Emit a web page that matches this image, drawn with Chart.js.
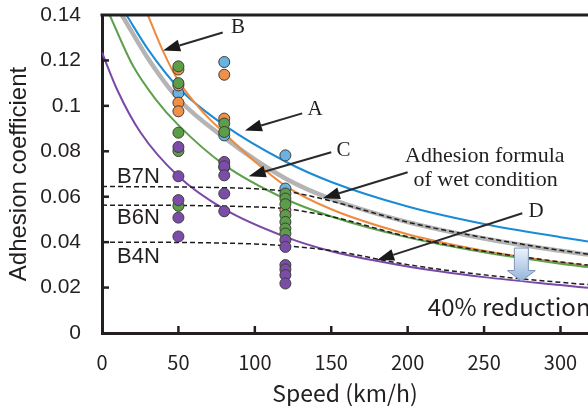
<!DOCTYPE html>
<html lang="en">
<head>
<meta charset="UTF-8">
<title>Adhesion coefficient vs speed</title>
<script src="https://cdn.jsdelivr.net/npm/chart.js"></script>
<style>
    body { margin: 0; background: #fff; }
    .wrap { width: 588px; height: 406px; position: relative; }
</style>
</head>
<body>
<div class="wrap"><canvas id="adhesionChart"></canvas></div>
<script>
// axes
const speedTicks = [0, 50, 100, 150, 200, 250, 300];
const muTicks = [0, 0.02, 0.04, 0.06, 0.08, 0.1, 0.12, 0.14];
const muTickLabels = ['0', '0.02', '0.04', '0.06', '0.08', '0.1', '0.12', '0.14'];

// fitted curves (speed km/h -> adhesion coefficient)
const curveASpeed = [16, 30, 50, 80, 120, 150, 200, 250, 300, 318];
const curveAMu = [0.140, 0.125, 0.108, 0.0915, 0.0755, 0.0665, 0.0557, 0.048, 0.0422, 0.0403];
const curveBSpeed = [30, 40, 50, 65, 80, 100, 120, 150, 200, 250, 300, 318];
const curveBMu = [0.140, 0.124, 0.111, 0.098, 0.088, 0.0755, 0.0648, 0.0545, 0.0435, 0.0362, 0.031, 0.0295];
const curveGraySpeed = [13, 30, 50, 80, 120, 150, 200, 250, 300, 318];
const curveGrayMu = [0.140, 0.121, 0.103, 0.086, 0.068, 0.059, 0.0488, 0.0416, 0.0362, 0.0345];
const curveCSpeed = [5, 20, 35, 50, 80, 120, 150, 200, 250, 300, 318];
const curveCMu = [0.140, 0.118, 0.103, 0.0915, 0.074, 0.059, 0.0513, 0.0421, 0.0355, 0.0305, 0.029];
const curveDSpeed = [0, 10, 25, 50, 80, 120, 150, 200, 250, 300, 318];
const curveDMu = [0.1235, 0.107, 0.0885, 0.069, 0.0545, 0.0423, 0.036, 0.0293, 0.0246, 0.0211, 0.0199];

// wet-condition adhesion formula (dashed)
const wetB7Speed = [0, 60, 100, 120, 135, 155, 200, 250, 300, 318];
const wetB7Mu = [0.0645, 0.0642, 0.0635, 0.0624, 0.0605, 0.0572, 0.0488, 0.042, 0.0364, 0.0347];
const wetB6Speed = [0, 60, 100, 120, 135, 155, 200, 250, 300, 318];
const wetB6Mu = [0.0563, 0.0561, 0.0555, 0.0548, 0.0532, 0.0505, 0.0424, 0.036, 0.0313, 0.0299];
const wetB4Speed = [0, 60, 100, 120, 150, 200, 250, 300, 318];
const wetB4Mu = [0.04, 0.0398, 0.0392, 0.0384, 0.0363, 0.0301, 0.0256, 0.0223, 0.0213];

// measured points
const bluePtSpeed = [50, 80, 80, 120, 120];
const bluePtMu = [0.1056, 0.1193, 0.087, 0.0782, 0.0636];
const orangePtSpeed = [50, 50, 50, 50, 80, 80, 120];
const orangePtMu = [0.116, 0.109, 0.1014, 0.0976, 0.1137, 0.0944, 0.0541];
const greenPtSpeed = [50, 50, 50, 50, 50, 80, 80, 80, 120, 120, 120, 120, 120, 120, 120];
const greenPtMu = [0.1174, 0.110, 0.0882, 0.0801, 0.056, 0.0922, 0.0885, 0.073,
    0.0614, 0.0592, 0.0567, 0.0519, 0.0489, 0.046, 0.0438];
const purplePtSpeed = [50, 50, 50, 50, 50, 80, 80, 80, 80, 80, 120, 120, 120, 120, 120, 120];
const purplePtMu = [0.0819, 0.069, 0.0585, 0.0508, 0.0425, 0.0753, 0.0734, 0.0694, 0.0614, 0.0536,
    0.0409, 0.0379, 0.0299, 0.028, 0.0255, 0.0218];

const pairs = (xs, ys) => xs.map((v, i) => ({ x: v, y: ys[i] }));

const INK = '#231f20';
const SANS = "'Liberation Sans', Arial, sans-serif";
const JP = "'Noto Sans CJK JP', 'Liberation Sans', sans-serif";
const SERIF = "'Liberation Serif', 'Times New Roman', serif";

function curve(xs, ys, color, width, order, dash) {
    return {
        type: 'line', data: pairs(xs, ys), borderColor: color, borderWidth: width,
        borderDash: dash || [], pointRadius: 0, cubicInterpolationMode: 'monotone',
        fill: false, order: order
    };
}

function dots(xs, ys, color, order) {
    return {
        type: 'scatter', data: pairs(xs, ys), backgroundColor: color, borderColor: '#3d3d3d',
        borderWidth: 1, pointRadius: 5.5, order: order
    };
}

// annotation arrows, in data units
const notes = [
    { text: 'B', at: [89, 0.1345], from: [79, 0.1323], to: [40, 0.1244] },
    { text: 'A', at: [139.5, 0.0985], from: [131, 0.0967], to: [93.5, 0.0892] },
    { text: 'C', at: [158, 0.0805], from: [150, 0.0796], to: [96, 0.069] },
    { text: 'D', at: [284, 0.0537], from: [275, 0.0527], to: [180, 0.0321] },
    { text: '', at: [0, 0], from: [200, 0.0708], to: [144.5, 0.0593] }
];

function drawArrow(ctx, x1, y1, x2, y2) {
    const ang = Math.atan2(y2 - y1, x2 - x1);
    const len = 17, half = 6;
    const bx = x2 - Math.cos(ang) * len, by = y2 - Math.sin(ang) * len;
    ctx.beginPath();
    ctx.moveTo(x1, y1);
    ctx.lineTo(bx, by);
    ctx.stroke();
    ctx.beginPath();
    ctx.moveTo(x2, y2);
    ctx.lineTo(bx + Math.sin(ang) * half, by - Math.cos(ang) * half);
    ctx.lineTo(bx - Math.sin(ang) * half, by + Math.cos(ang) * half);
    ctx.closePath();
    ctx.fill();
}

const decorations = {
    id: 'decorations',
    afterDatasetsDraw(chart) {
        const { ctx, chartArea: a, scales: { x, y } } = chart;
        const px = v => x.getPixelForValue(v), py = v => y.getPixelForValue(v);
        ctx.save();
        ctx.strokeStyle = INK;
        ctx.fillStyle = INK;

        // top frame
        ctx.lineWidth = 3;
        ctx.beginPath();
        ctx.moveTo(a.left - 1.5, a.top);
        ctx.lineTo(a.right, a.top);
        ctx.stroke();

        // inward ticks
        ctx.lineWidth = 2.5;
        speedTicks.slice(1).forEach(v => {
            ctx.beginPath();
            ctx.moveTo(px(v), a.bottom);
            ctx.lineTo(px(v), a.bottom - 7);
            ctx.stroke();
        });
        muTicks.slice(1, -1).forEach(v => {
            ctx.beginPath();
            ctx.moveTo(a.left, py(v));
            ctx.lineTo(a.left + 7, py(v));
            ctx.stroke();
        });

        // arrows and letters
        ctx.lineWidth = 2;
        ctx.strokeStyle = '#2a2a2a';
        ctx.fillStyle = '#1a1a1a';
        notes.forEach(n => {
            drawArrow(ctx, px(n.from[0]), py(n.from[1]), px(n.to[0]), py(n.to[1]));
        });
        ctx.fillStyle = INK;
        ctx.textAlign = 'center';
        ctx.textBaseline = 'middle';
        ctx.font = '21px ' + SERIF;
        notes.forEach(n => {
            if (n.text) ctx.fillText(n.text, px(n.at[0]), py(n.at[1]));
        });
        ctx.font = '22px ' + SERIF;
        ctx.fillText('Adhesion formula', px(250.5), py(0.0778));
        ctx.fillText('of wet condition', px(251), py(0.0672));

        // B-notch labels
        ctx.textAlign = 'left';
        ctx.font = '22px ' + SANS;
        ctx.fillText('B7N', px(9.8), py(0.0685));
        ctx.fillText('B6N', px(9.8), py(0.0508));
        ctx.fillText('B4N', px(9.8), py(0.0337));

        // 40% reduction block arrow
        const cx = px(274.4), top = py(0.0374), neck = py(0.0275), tip = py(0.0228);
        const g = ctx.createLinearGradient(0, top, 0, tip);
        g.addColorStop(0, '#eef4fb');
        g.addColorStop(1, '#93b3dc');
        ctx.beginPath();
        ctx.moveTo(cx - 7, top);
        ctx.lineTo(cx + 7, top);
        ctx.lineTo(cx + 7, neck);
        ctx.lineTo(cx + 14, neck);
        ctx.lineTo(cx, tip);
        ctx.lineTo(cx - 14, neck);
        ctx.lineTo(cx - 7, neck);
        ctx.closePath();
        ctx.fillStyle = g;
        ctx.fill();
        ctx.lineWidth = 1;
        ctx.strokeStyle = '#7f95b8';
        ctx.stroke();

        ctx.fillStyle = INK;
        ctx.font = '24px ' + JP;
        ctx.fillText('40% reduction', px(213.2), py(0.0114));
        ctx.restore();
    }
};

new Chart(document.getElementById('adhesionChart'), {
    data: {
        datasets: [
            dots(purplePtSpeed, purplePtMu, '#7b4da9', 0),
            dots(greenPtSpeed, greenPtMu, '#5c9d48', 1),
            dots(orangePtSpeed, orangePtMu, '#f09048', 2),
            dots(bluePtSpeed, bluePtMu, '#6ab2e2', 3),
            curve(wetB7Speed, wetB7Mu, '#1e1e1e', 1.5, 4, [5, 3]),
            curve(wetB6Speed, wetB6Mu, '#1e1e1e', 1.5, 4, [5, 3]),
            curve(wetB4Speed, wetB4Mu, '#1e1e1e', 1.5, 4, [5, 3]),
            curve(curveDSpeed, curveDMu, '#7a48a6', 2, 5),
            curve(curveCSpeed, curveCMu, '#5da04a', 2, 6),
            curve(curveBSpeed, curveBMu, '#ee8a3e', 2, 7),
            curve(curveASpeed, curveAMu, '#1a8bd6', 2, 8),
            curve(curveGraySpeed, curveGrayMu, '#b4b4b4', 4.5, 9)
        ]
    },
    options: {
        responsive: true,
        maintainAspectRatio: false,
        animation: false,
        layout: { autoPadding: false, padding: { top: 15, left: 0, right: 0, bottom: 0 } },
        plugins: { legend: { display: false }, tooltip: { enabled: false } },
        scales: {
            x: {
                type: 'linear', min: 0, max: 318,
                afterFit: s => { s.height = 73; s.paddingLeft = 0; s.paddingRight = 0; },
                grid: { display: false, drawTicks: false },
                border: { display: true, color: INK, width: 3 },
                ticks: {
                    stepSize: 50, includeBounds: false, padding: 17, color: INK,
                    font: { family: JP, size: 20 }
                },
                title: {
                    display: true, text: 'Speed (km/h)', color: INK,
                    font: { family: JP, size: 23, lineHeight: 1.1 }, padding: { top: 0, bottom: 0 }
                }
            },
            y: {
                type: 'linear', min: 0, max: 0.14,
                afterFit: s => { s.width = 102; s.paddingTop = 0; s.paddingBottom = 0; },
                grid: { display: false, drawTicks: false },
                border: { display: true, color: INK, width: 3 },
                ticks: {
                    stepSize: 0.02, padding: 21, color: INK,
                    font: { family: SANS, size: 21 },
                    callback: v => {
                        const i = muTicks.findIndex(t => Math.abs(t - v) < 1e-6);
                        return i < 0 ? '' : muTickLabels[i];
                    }
                },
                title: {
                    display: true, text: 'Adhesion coefficient', color: INK,
                    font: { family: SANS, size: 24 }, padding: { top: 5, bottom: 0 }
                }
            }
        }
    },
    plugins: [decorations]
});
</script>
</body>
</html>
